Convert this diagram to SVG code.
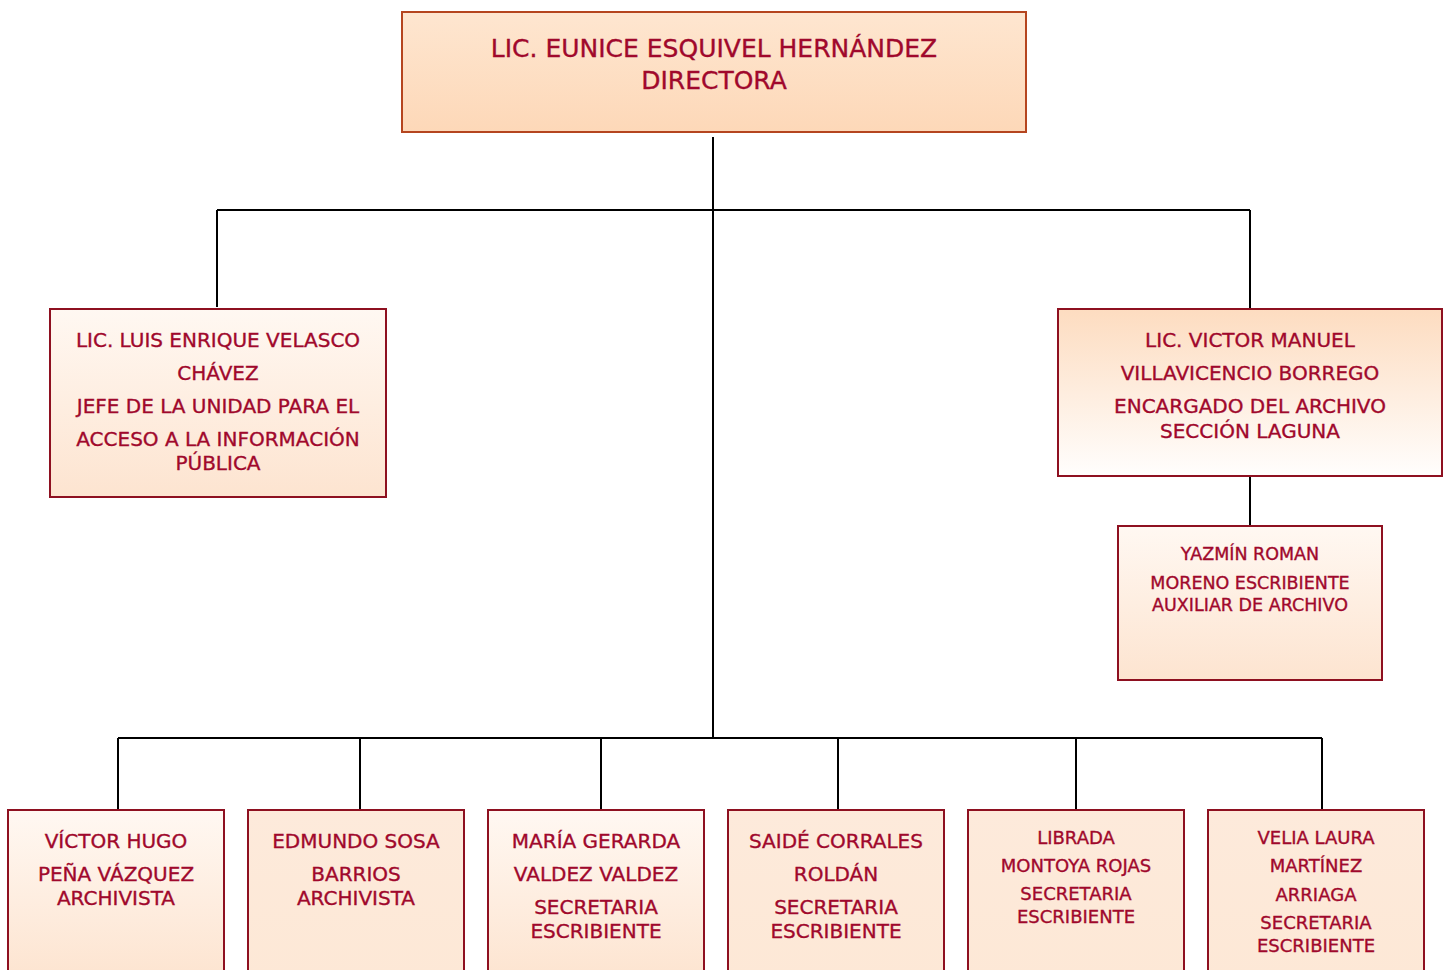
<svg xmlns="http://www.w3.org/2000/svg" width="1449" height="970" viewBox="0 0 1449 970">
<style>
text{font-family:"DejaVu Sans","Noto Sans",sans-serif;fill:#a0082c;stroke:#a0082c;stroke-width:0.35;text-anchor:middle;}
.t1{font-size:25px;}
.t2{font-size:20px;}
.t3{font-size:17.5px;}
.t4{font-size:18px;}
.b{stroke:#8e1020;stroke-width:2;}
.bt{stroke:#b5451f;stroke-width:2;}
.c{stroke:#000;stroke-width:2;fill:none;}
</style>
<defs>
<linearGradient id="gTop" x1="0" y1="0" x2="0" y2="1"><stop offset="0" stop-color="#fee6d0"/><stop offset="1" stop-color="#fdd8b8"/></linearGradient>
<linearGradient id="gDown" x1="0" y1="0" x2="0" y2="1"><stop offset="0" stop-color="#fff8f2"/><stop offset="1" stop-color="#fde4d0"/></linearGradient>
<linearGradient id="gUp" x1="0" y1="0" x2="0" y2="1"><stop offset="0" stop-color="#fddcc0"/><stop offset="1" stop-color="#fffefd"/></linearGradient>
<linearGradient id="gFlat" x1="0" y1="0" x2="0" y2="1"><stop offset="0" stop-color="#fdeadb"/><stop offset="1" stop-color="#fde8d6"/></linearGradient>
</defs>
<g id="connectors">
<path class="c" d="M713 137V738M217 210H1250M217 210V307M1250 210V309M1250 476V526M118 738H1322M118 738V810M360 738V810M601 738V810M838 738V810M1076 738V810M1322 738V810"/>
</g>
<g id="director">
<rect class="bt" x="402" y="12" width="624" height="120" fill="url(#gTop)"/>
<text class="t1" x="714" y="57">LIC. EUNICE ESQUIVEL HERNÁNDEZ</text>
<text class="t1" x="714" y="89">DIRECTORA</text>
</g>
<g id="jefe">
<rect class="b" x="50" y="309" width="336" height="188" fill="url(#gDown)"/>
<text class="t2" x="218" y="347">LIC. LUIS ENRIQUE VELASCO</text>
<text class="t2" x="218" y="380">CHÁVEZ</text>
<text class="t2" x="218" y="413">JEFE DE LA UNIDAD PARA EL</text>
<text class="t2" x="218" y="446">ACCESO A LA INFORMACIÓN</text>
<text class="t2" x="218" y="470">PÚBLICA</text>
</g>
<g id="encargado">
<rect class="b" x="1058" y="309" width="384" height="167" fill="url(#gUp)"/>
<text class="t2" x="1250" y="347">LIC. VICTOR MANUEL</text>
<text class="t2" x="1250" y="380">VILLAVICENCIO BORREGO</text>
<text class="t2" x="1250" y="413">ENCARGADO DEL ARCHIVO</text>
<text class="t2" x="1250" y="438">SECCIÓN LAGUNA</text>
</g>
<g id="yazmin">
<rect class="b" x="1118" y="526" width="264" height="154" fill="url(#gDown)"/>
<text class="t3" x="1250" y="560">YAZMÍN ROMAN</text>
<text class="t3" x="1250" y="589">MORENO ESCRIBIENTE</text>
<text class="t3" x="1250" y="611">AUXILIAR DE ARCHIVO</text>
</g>
<g id="victor">
<rect class="b" x="8" y="810" width="216" height="170" fill="url(#gDown)"/>
<text class="t2" x="116" y="848">VÍCTOR HUGO</text>
<text class="t2" x="116" y="881">PEÑA VÁZQUEZ</text>
<text class="t2" x="116" y="905">ARCHIVISTA</text>
</g>
<g id="edmundo">
<rect class="b" x="248" y="810" width="216" height="170" fill="url(#gFlat)"/>
<text class="t2" x="356" y="848">EDMUNDO SOSA</text>
<text class="t2" x="356" y="881">BARRIOS</text>
<text class="t2" x="356" y="905">ARCHIVISTA</text>
</g>
<g id="maria">
<rect class="b" x="488" y="810" width="216" height="170" fill="url(#gDown)"/>
<text class="t2" x="596" y="848">MARÍA GERARDA</text>
<text class="t2" x="596" y="881">VALDEZ VALDEZ</text>
<text class="t2" x="596" y="914">SECRETARIA</text>
<text class="t2" x="596" y="938">ESCRIBIENTE</text>
</g>
<g id="saide">
<rect class="b" x="728" y="810" width="216" height="170" fill="url(#gFlat)"/>
<text class="t2" x="836" y="848">SAIDÉ CORRALES</text>
<text class="t2" x="836" y="881">ROLDÁN</text>
<text class="t2" x="836" y="914">SECRETARIA</text>
<text class="t2" x="836" y="938">ESCRIBIENTE</text>
</g>
<g id="librada">
<rect class="b" x="968" y="810" width="216" height="170" fill="url(#gFlat)"/>
<text class="t4" x="1076" y="844">LIBRADA</text>
<text class="t4" x="1076" y="872">MONTOYA ROJAS</text>
<text class="t4" x="1076" y="900">SECRETARIA</text>
<text class="t4" x="1076" y="923">ESCRIBIENTE</text>
</g>
<g id="velia">
<rect class="b" x="1208" y="810" width="216" height="170" fill="url(#gFlat)"/>
<text class="t4" x="1316" y="844">VELIA LAURA</text>
<text class="t4" x="1316" y="872">MARTÍNEZ</text>
<text class="t4" x="1316" y="901">ARRIAGA</text>
<text class="t4" x="1316" y="929">SECRETARIA</text>
<text class="t4" x="1316" y="952">ESCRIBIENTE</text>
</g>
</svg>
